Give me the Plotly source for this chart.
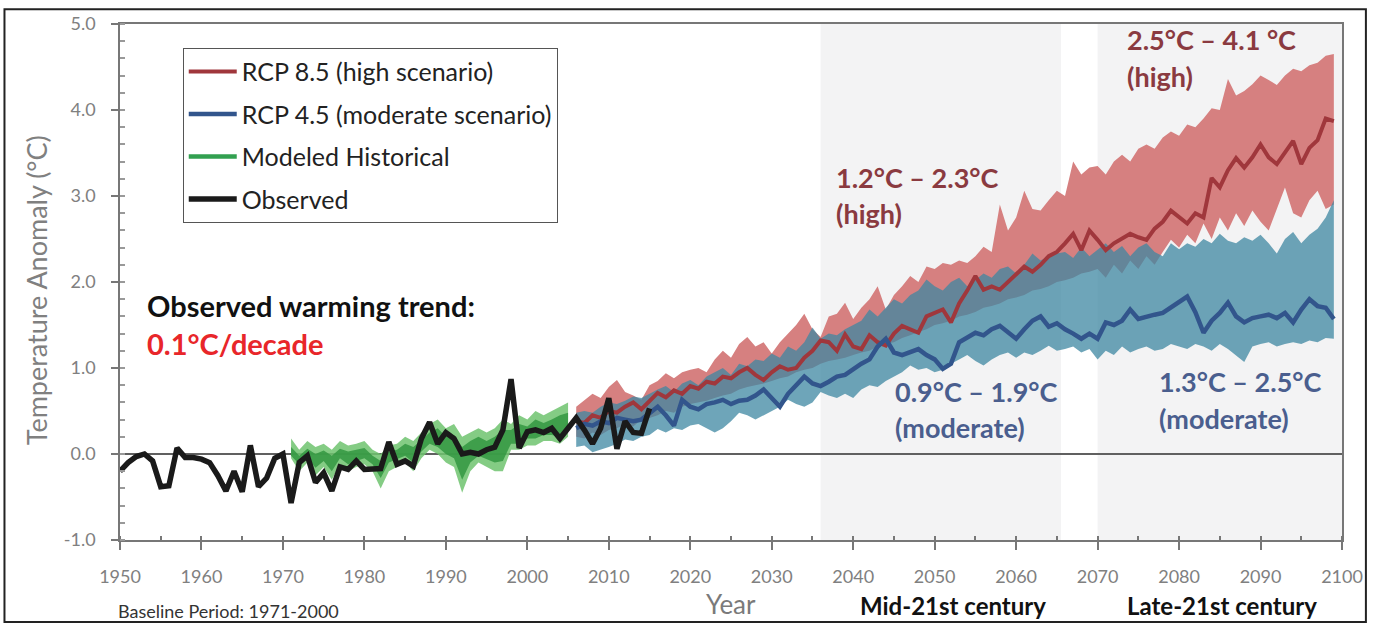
import plotly.graph_objects as go

# ---------------- data ----------------
obs_years = list(range(1950, 2016))
observed = [-0.20, -0.10, -0.03, 0.00, -0.08, -0.38, -0.37, 0.07, -0.04, -0.04,
            -0.06, -0.10, -0.25, -0.43, -0.20, -0.44, 0.10, -0.38, -0.28, -0.05,
            0.00, -0.57, -0.10, -0.02, -0.33, -0.22, -0.43, -0.15, -0.18, -0.08,
            -0.18, -0.18, -0.17, 0.14, -0.12, -0.08, -0.14, 0.18, 0.37, 0.12,
            0.25, 0.18, 0.00, 0.02, 0.00, 0.05, 0.08, 0.28, 0.87, 0.07,
            0.26, 0.28, 0.25, 0.30, 0.18, 0.30, 0.42, 0.28, 0.12, 0.30,
            0.65, 0.06, 0.38, 0.25, 0.24, 0.53]

hist_years = list(range(1971, 2006))
hist_upper = [0.18, 0.05, 0.15, 0.08, 0.12, 0.05, 0.15, 0.10, 0.12, 0.15,
              0.05, 0.00, 0.10, 0.12, 0.20, 0.15, 0.25, 0.35, 0.40, 0.30,
              0.35, 0.20, 0.25, 0.30, 0.25, 0.30, 0.40, 0.35, 0.45, 0.40,
              0.50, 0.45, 0.50, 0.55, 0.60]
hist_lower = [-0.05, -0.20, -0.10, -0.25, -0.15, -0.30, -0.12, -0.20, -0.15, -0.12,
              -0.20, -0.40, -0.20, -0.15, -0.10, -0.20, -0.05, 0.05, 0.00, -0.10,
              -0.15, -0.45, -0.20, -0.10, -0.15, -0.20, -0.20, 0.05, 0.05, 0.10,
              0.10, 0.15, 0.15, 0.12, 0.20]
hist_inner_upper = [0.08, -0.02, 0.06, 0.00, 0.04, -0.02, 0.06, 0.03, 0.05, 0.07,
                    -0.02, -0.08, 0.03, 0.05, 0.12, 0.08, 0.16, 0.25, 0.30, 0.20,
                    0.22, 0.08, 0.15, 0.20, 0.15, 0.20, 0.28, 0.28, 0.35, 0.32,
                    0.40, 0.36, 0.40, 0.45, 0.48]
hist_inner_lower = [-0.02, -0.12, -0.04, -0.16, -0.08, -0.20, -0.05, -0.12, -0.08, -0.05,
                    -0.12, -0.28, -0.10, -0.06, -0.02, -0.10, 0.03, 0.12, 0.08, 0.00,
                    -0.05, -0.30, -0.10, -0.02, -0.06, -0.10, -0.08, 0.12, 0.12, 0.18,
                    0.18, 0.22, 0.22, 0.20, 0.28]

proj_years = list(range(2006, 2100))
rcp85_mean = [0.38, 0.36, 0.45, 0.42, 0.50, 0.48, 0.55, 0.60, 0.52, 0.62,
              0.71, 0.66, 0.74, 0.70, 0.79, 0.76, 0.84, 0.82, 0.90, 0.88,
              0.95, 1.00, 0.92, 0.86, 0.95, 1.02, 0.98, 1.00, 1.12, 1.20,
              1.32, 1.30, 1.20, 1.39, 1.25, 1.22, 1.38, 1.30, 1.26, 1.40,
              1.49, 1.45, 1.41, 1.60, 1.64, 1.68, 1.53, 1.75, 1.90, 2.07,
              1.91, 1.95, 1.91, 2.00, 2.10, 2.18, 2.12, 2.20, 2.30, 2.35,
              2.45, 2.56, 2.37, 2.60, 2.49, 2.37, 2.45, 2.50, 2.56, 2.52,
              2.49, 2.62, 2.70, 2.83, 2.75, 2.68, 2.80, 2.75, 3.21, 3.10,
              3.30, 3.44, 3.33, 3.45, 3.60, 3.45, 3.37, 3.50, 3.64, 3.37,
              3.56, 3.65, 3.90, 3.87]
rcp85_upper = [0.55, 0.63, 0.70, 0.65, 0.78, 0.86, 0.72, 0.68, 0.63, 0.80,
               0.85, 0.94, 0.88, 0.95, 0.98, 1.00, 0.95, 1.10, 1.20, 1.12,
               1.28, 1.36, 1.25, 1.30, 1.17, 1.30, 1.40, 1.50, 1.63, 1.45,
               1.36, 1.60, 1.63, 1.76, 1.57, 1.70, 1.80, 1.95, 1.68, 1.85,
               1.95, 2.07, 2.00, 2.18, 2.15, 2.22, 2.20, 2.25, 2.22, 2.30,
               2.41, 2.35, 2.90, 2.60, 2.75, 3.06, 2.85, 2.83, 2.95, 3.06,
               3.00, 3.40, 3.25, 3.33, 3.35, 3.25, 3.40, 3.48, 3.40, 3.55,
               3.60, 3.55, 3.68, 3.75, 3.70, 3.83, 3.80, 3.90, 4.02, 4.00,
               4.36, 4.17, 4.22, 4.30, 4.40, 4.35, 4.29, 4.40, 4.48, 4.45,
               4.52, 4.55, 4.63, 4.65]
rcp85_lower = [0.20, 0.18, 0.25, 0.22, 0.28, 0.30, 0.35, 0.32, 0.40, 0.42,
               0.45, 0.50, 0.48, 0.55, 0.58, 0.60, 0.62, 0.65, 0.68, 0.70,
               0.75, 0.78, 0.80, 0.82, 0.85, 0.88, 0.90, 0.95, 0.98, 1.00,
               1.05, 1.08, 1.10, 1.12, 1.15, 1.18, 1.20, 1.25, 1.28, 1.30,
               1.35, 1.38, 1.42, 1.45, 1.50, 1.52, 1.55, 1.60, 1.62, 1.65,
               1.70, 1.72, 1.75, 1.80, 1.82, 1.85, 1.90, 1.92, 1.95, 2.00,
               2.02, 2.05, 2.10, 2.12, 2.15, 2.05, 2.20, 2.10, 2.25, 2.15,
               2.30, 2.20, 2.35, 2.49, 2.40, 2.55, 2.45, 2.68, 2.50, 2.75,
               2.60, 2.80, 2.65, 2.83, 2.70, 2.60, 2.85, 3.10, 2.80, 2.75,
               2.95, 3.06, 2.85, 2.90]
rcp45_mean = [0.30, 0.35, 0.33, 0.38, 0.36, 0.42, 0.40, 0.38, 0.40, 0.48,
              0.55, 0.45, 0.33, 0.63, 0.55, 0.52, 0.58, 0.60, 0.63, 0.58,
              0.62, 0.63, 0.68, 0.75, 0.65, 0.55, 0.70, 0.80, 0.90, 0.82,
              0.79, 0.84, 0.90, 0.92, 0.99, 1.05, 1.10, 1.25, 1.34, 1.18,
              1.15, 1.18, 1.22, 1.15, 1.10, 0.99, 1.05, 1.30, 1.35, 1.41,
              1.38, 1.45, 1.49, 1.42, 1.34, 1.45, 1.55, 1.60, 1.48, 1.52,
              1.45, 1.40, 1.34, 1.40, 1.34, 1.53, 1.50, 1.55, 1.68, 1.57,
              1.60, 1.62, 1.64, 1.70, 1.76, 1.83, 1.65, 1.41, 1.55, 1.64,
              1.76, 1.60, 1.53, 1.58, 1.60, 1.62, 1.58, 1.64, 1.53, 1.68,
              1.80, 1.72, 1.70, 1.57]
rcp45_upper = [0.48, 0.50, 0.48, 0.55, 0.60, 0.58, 0.62, 0.67, 0.65, 0.70,
               0.75, 0.79, 0.72, 0.82, 0.86, 0.80, 0.90, 0.95, 1.00, 0.92,
               1.05, 1.02, 1.10, 1.08, 1.17, 1.12, 1.25, 1.20, 1.30, 1.47,
               1.34, 1.40, 1.38, 1.45, 1.50, 1.55, 1.68, 1.60, 1.70, 1.80,
               1.75, 1.85, 1.90, 2.03, 1.95, 1.90, 2.00, 2.05, 1.95, 2.03,
               2.10, 2.05, 2.15, 2.18, 2.10, 2.20, 2.33, 2.25, 2.30, 2.33,
               2.35, 2.28, 2.40, 2.30, 2.38, 2.45, 2.35, 2.42, 2.30, 2.40,
               2.45, 2.35, 2.30, 2.45, 2.38, 2.45, 2.41, 2.50, 2.45, 2.56,
               2.48, 2.45, 2.52, 2.48, 2.55, 2.45, 2.33, 2.50, 2.58, 2.45,
               2.55, 2.62, 2.75, 2.95]
rcp45_lower = [0.08, 0.10, 0.02, 0.05, 0.08, 0.12, 0.17, 0.15, 0.20, 0.22,
               0.29, 0.25, 0.30, 0.28, 0.33, 0.35, 0.30, 0.25, 0.30, 0.38,
               0.48, 0.45, 0.40, 0.45, 0.50, 0.55, 0.63, 0.58, 0.55, 0.60,
               0.72, 0.68, 0.65, 0.70, 0.65, 0.75, 0.80, 0.78, 0.85, 0.90,
               0.95, 1.03, 0.98, 1.00, 0.95, 0.98, 1.05, 1.10, 1.15, 1.08,
               1.03, 1.10, 1.15, 1.18, 1.12, 1.18, 1.15, 1.20, 1.26, 1.20,
               1.22, 1.25, 1.18, 1.22, 1.10, 1.20, 1.15, 1.25, 1.18, 1.22,
               1.25, 1.20, 1.22, 1.28, 1.25, 1.22, 1.28, 1.25, 1.20, 1.28,
               1.22, 1.15, 1.07, 1.25, 1.28, 1.30, 1.25, 1.28, 1.30, 1.28,
               1.32, 1.30, 1.35, 1.34]

x_ticks = list(range(1950, 2101, 10))
y_ticks = [-1.0, 0.0, 1.0, 2.0, 3.0, 4.0, 5.0]
y_tick_labels = ["-1.0", "0.0", "1.0", "2.0", "3.0", "4.0", "5.0"]
mid_period = [2036, 2065.5]
late_period = [2070, 2100]

# ---------------- styling ----------------
FONT = "Lato"
RED_BAND = "rgb(214,128,128)"
RED_LINE = "rgb(160,55,60)"
TEAL_BAND = "rgba(62,135,162,0.75)"
BLUE_LINE = "rgb(50,85,140)"
GREEN_OUT = "rgba(110,195,110,0.85)"
GREEN_IN = "rgba(50,150,65,0.85)"
LBL_RED = "#8a3a40"
LBL_BLUE = "#4a5e8e"

W, H = 1375, 624
L, R, T, B = 120, 1347, 18, 540


def px(xp, yp):
    return (xp - L) / (R - L), (B - yp) / (B - T)


fig = go.Figure()


def band(x, lo, hi, color, name):
    fig.add_trace(go.Scatter(x=x, y=lo, mode="lines", line=dict(width=0),
                             showlegend=False, hoverinfo="skip", name=name + " low"))
    fig.add_trace(go.Scatter(x=x, y=hi, mode="lines", line=dict(width=0),
                             fill="tonexty", fillcolor=color,
                             showlegend=False, hoverinfo="skip", name=name + " high"))


band(proj_years, rcp85_lower, rcp85_upper, RED_BAND, "rcp85")
band(proj_years, rcp45_lower, rcp45_upper, TEAL_BAND, "rcp45")
band(hist_years, hist_lower, hist_upper, GREEN_OUT, "hist")
band(hist_years, hist_inner_lower, hist_inner_upper, GREEN_IN, "hist inner")

fig.add_trace(go.Scatter(x=proj_years, y=rcp85_mean, mode="lines",
                         line=dict(color=RED_LINE, width=4),
                         name="RCP 8.5 (high scenario)", legendgroup="a", legendrank=1))
fig.add_trace(go.Scatter(x=proj_years, y=rcp45_mean, mode="lines",
                         line=dict(color=BLUE_LINE, width=4.5),
                         name="RCP 4.5 (moderate scenario)", legendgroup="b", legendrank=2))
fig.add_trace(go.Scatter(x=[None], y=[None], mode="lines",
                         line=dict(color="rgb(50,160,80)", width=4.5),
                         name="Modeled Historical", legendgroup="c", legendrank=3))
fig.add_trace(go.Scatter(x=obs_years, y=observed, mode="lines",
                         line=dict(color="#1a1a1a", width=5.5),
                         name="Observed", legendgroup="d", legendrank=4))

shapes = []
for p0, p1 in (mid_period, late_period):
    shapes.append(dict(type="rect", xref="x", yref="y", x0=p0, x1=p1, y0=-1, y1=5,
                       fillcolor="#f3f3f4", line=dict(width=0), layer="below"))
# outer frame
fx0, fy0 = px(4, 623)
fx1, fy1 = px(1371, 3)
shapes.append(dict(type="rect", xref="paper", yref="paper", x0=fx0, x1=fx1, y0=fy0, y1=fy1,
                   line=dict(color="#222", width=2), fillcolor="rgba(0,0,0,0)"))

annotations = []


def label(text, xp, yp, color, size, bold=True, anchor="left", angle=0):
    ax, ay = px(xp, yp)
    annotations.append(dict(text=("<b>%s</b>" % text) if bold else text,
                            x=ax, y=ay, xref="paper", yref="paper",
                            xanchor=anchor, yanchor="middle", showarrow=False,
                            textangle=angle,
                            font=dict(family=FONT, size=size, color=color)))


label("Observed warming trend:", 145, 303, "#111", 29)
label("0.1°C/decade", 145, 341, "#e8262a", 29)
label("1.2°C – 2.3°C", 837, 173, LBL_RED, 27)
label("(high)", 837, 210, LBL_RED, 27)
label("2.5°C – 4.1 °C", 1129, 34, LBL_RED, 27)
label("(high)", 1129, 71, LBL_RED, 27)
label("0.9°C – 1.9°C", 896, 390, LBL_BLUE, 27)
label("(moderate)", 896, 426, LBL_BLUE, 27)
label("1.3°C – 2.5°C", 1161, 380, LBL_BLUE, 27)
label("(moderate)", 1161, 417, LBL_BLUE, 27)
label("Year", 733, 605, "#7a7a7a", 26, bold=False, anchor="center")
label("Mid-21st century", 956, 606, "#111", 24, anchor="center")
label("Late-21st century", 1227, 606, "#111", 24, anchor="center")
label("Baseline Period: 1971-2000", 116, 612, "#333", 18, bold=False)
label("Temperature Anomaly (°C)", 37, 287, "#808080", 27, bold=False, anchor="center", angle=-90)

lx, ly = px(183, 42)
fig.update_layout(
    width=W, height=H,
    margin=dict(l=L, r=W - R, t=T, b=H - B),
    paper_bgcolor="white", plot_bgcolor="white",
    showlegend=True,
    legend=dict(x=lx, y=ly, xanchor="left", yanchor="top",
                bordercolor="#555", borderwidth=1, bgcolor="white",
                font=dict(family=FONT, size=25, color="#222"),
                itemwidth=48,
                tracegroupgap=7, traceorder="grouped"),
    shapes=shapes,
    annotations=annotations,
    font=dict(family=FONT),
)
fig.update_xaxes(range=[1950, 2100], tickvals=x_ticks, showgrid=False,
                 showline=True, linecolor="#777", linewidth=1.5, mirror=True,
                 ticks="outside", ticklen=8, tickcolor="#777", tickwidth=1.5,
                 minor=dict(dtick=5, tick0=1950, ticks="inside", ticklen=4, tickcolor="#777"),
                 tickfont=dict(family=FONT, size=18, color="#808080"),
                 ticklabelstandoff=12, zeroline=False)
fig.update_yaxes(range=[-1, 5], tickvals=y_ticks, ticktext=y_tick_labels, showgrid=False,
                 showline=True, linecolor="#777", linewidth=1.5, mirror=True,
                 ticks="outside", ticklen=7, tickcolor="#777", tickwidth=1.5,
                 minor=dict(dtick=0.2, tick0=0, ticks="inside", ticklen=5, tickcolor="#999"),
                 tickfont=dict(family=FONT, size=18, color="#808080"),
                 ticklabelstandoff=12,
                 zeroline=True, zerolinecolor="#606060", zerolinewidth=1.5)

fig.write_html("out.html", config={"displayModeBar": False},
               post_script="document.body.style.margin='0';document.body.style.overflow='hidden';")
